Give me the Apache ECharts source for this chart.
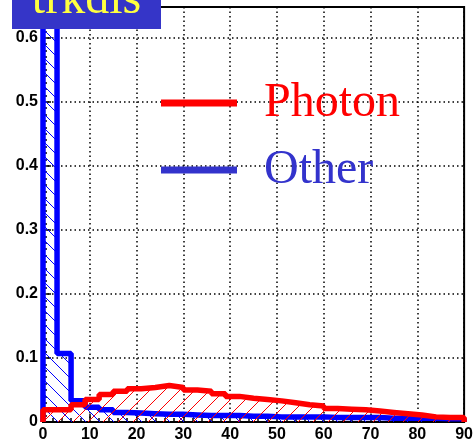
<!DOCTYPE html>
<html>
<head>
<meta charset="utf-8">
<script src="https://cdn.jsdelivr.net/npm/echarts@6/dist/echarts.min.js"></script>
<style>
html,body{margin:0;padding:0;background:#fff;}
#chart{width:476px;height:443px;}
</style>
</head>
<body>
<div id="chart"></div>
<script>
// Bin lower edges (bin width 3)
const binStart = [0,3,6,9,12,15,18,21,24,27,30,33,36,39,42,45,48,51,54,57,60,63,66,69,72,75,78,81,84,87];
const binEnd = 90;
// Photon (red) histogram
const photon = [0.019,0.019,0.027,0.035,0.043,0.048,0.052,0.054,0.057,0.054,0.050,0.048,0.044,0.040,0.037,0.035,0.033,0.030,0.027,0.025,0.021,0.020,0.019,0.017,0.015,0.013,0.011,0.008,0.007,0.007];
// Other (blue) histogram
const other = [0.70,0.107,0.033,0.023,0.019,0.015,0.014,0.013,0.012,0.012,0.011,0.010,0.010,0.010,0.009,0.009,0.008,0.008,0.008,0.008,0.007,0.007,0.007,0.007,0.006,0.006,0.006,0.006,0.005,0.005];
const xTicks = [0,10,20,30,40,50,60,70,80,90];
const yTicks = [0,0.1,0.2,0.3,0.4,0.5,0.6];
const seriesNames = ['Photon','Other'];
const titleText = 'trkdis';

function stepData(vals){
  const d = [[binStart[0],0]];
  for(let i=0;i<vals.length;i++) d.push([binStart[i],vals[i]]);
  d.push([binEnd,vals[vals.length-1]]);
  d.push([binEnd,0]);
  return d;
}
function hatch(color, dir, s){
  const c = document.createElement('canvas');
  c.width = s; c.height = s;
  const ctx = c.getContext('2d');
  ctx.strokeStyle = color; ctx.lineWidth = 1;
  ctx.beginPath();
  if(dir === '/'){
    ctx.moveTo(0,s); ctx.lineTo(s,0);
    ctx.moveTo(-2,2); ctx.lineTo(2,-2);
    ctx.moveTo(s-2,s+2); ctx.lineTo(s+2,s-2);
  } else {
    ctx.moveTo(0,0); ctx.lineTo(s,s);
    ctx.moveTo(-2,s-2); ctx.lineTo(2,s+2);
    ctx.moveTo(s-2,-2); ctx.lineTo(s+2,2);
  }
  ctx.stroke();
  return c;
}

const chart = echarts.init(document.getElementById('chart'), null, {renderer:'canvas'});
const labelFont = {fontFamily:'Liberation Sans, Arial, sans-serif', fontWeight:'bold', fontSize:16, color:'#000'};
const gridLine = {show:true, lineStyle:{color:'#000', width:1.5, type:[1.5,3]}};

chart.setOption({
  backgroundColor:'#fff',
  animation:false,
  grid:{left:43, right:9, top:7, bottom:20, show:true, borderColor:'#000', borderWidth:2, backgroundColor:'#fff'},
  xAxis:{
    type:'value', min:xTicks[0], max:xTicks[xTicks.length-1], interval:10,
    axisLine:{show:true, lineStyle:{color:'#000', width:2}},
    axisTick:{show:true, inside:true, length:8, lineStyle:{color:'#000', width:1.5}},
    minorTick:{show:true, splitNumber:5, length:4, lineStyle:{color:'#000', width:1.5}},
    splitLine:gridLine,
    axisLabel:Object.assign({margin:5}, labelFont)
  },
  yAxis:{
    type:'value', min:0, max:0.648, interval:0.1,
    axisLine:{show:true, lineStyle:{color:'#000', width:2}},
    axisTick:{show:true, inside:true, length:8, lineStyle:{color:'#000', width:1.5}},
    minorTick:{show:true, splitNumber:10, length:4, lineStyle:{color:'#000', width:1.5}},
    splitLine:gridLine,
    axisLabel:Object.assign({margin:5, showMaxLabel:false, formatter:function(v){
      if(Math.abs(v) < 1e-9) return '0';
      for(const t of yTicks){ if(Math.abs(t-v)<1e-6) return t.toFixed(1); }
      return '';
    }}, labelFont)
  },
  legend:{
    left:161, top:78, orient:'vertical', itemWidth:76, itemHeight:7, itemGap:17, padding:0,
    icon:'rect',
    textStyle:{fontFamily:'Liberation Serif, Times New Roman, serif', fontSize:48, lineHeight:50, padding:[0,0,0,22]},
    data:[
      {name:seriesNames[0], itemStyle:{color:'#ff0000'}, textStyle:{color:'#ff0000'}},
      {name:seriesNames[1], itemStyle:{color:'#3333cc'}, textStyle:{color:'#3333cc'}}
    ]
  },
  series:[
    {
      name:seriesNames[1], type:'line', step:'end', symbol:'none', z:2,
      data:stepData(other),
      lineStyle:{color:'#0000ff', width:5.5},
      itemStyle:{color:'#0000ff'},
      areaStyle:{color:{image:hatch('#0000ff','\\',14), repeat:'repeat'}, opacity:1}
    },
    {
      name:seriesNames[0], type:'line', step:'end', symbol:'none', z:3,
      data:stepData(photon),
      lineStyle:{color:'#ff0000', width:5.5},
      itemStyle:{color:'#ff0000'},
      areaStyle:{color:{image:hatch('#ff0000','/',15), repeat:'repeat'}, opacity:1}
    }
  ],
  graphic:[
    {type:'rect', left:12, top:0, shape:{width:149, height:29}, style:{fill:'#3535c8'}, z:100},
    {type:'text', x:86.5, y:24, z:101, style:{text:titleText, fill:'#ffff40', font:'48px "Liberation Serif", "Times New Roman", serif', textAlign:'center', textVerticalAlign:'bottom'}}
  ]
});
</script>
</body>
</html>
